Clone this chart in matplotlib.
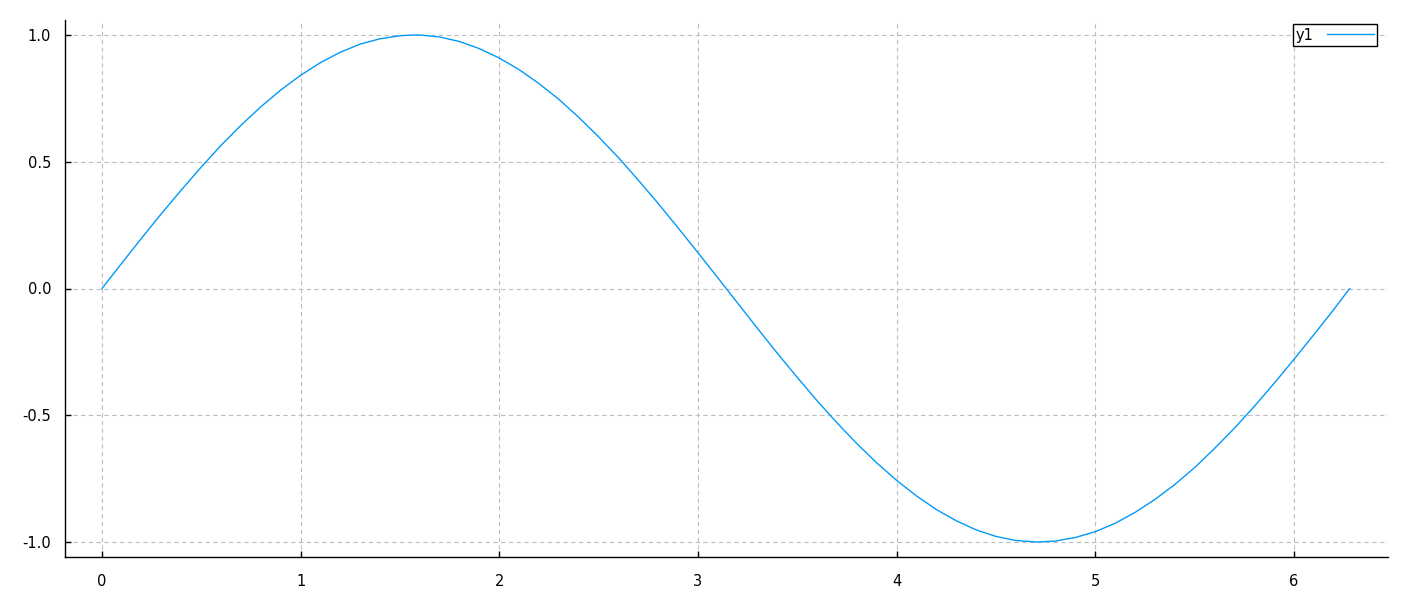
import matplotlib
matplotlib.use("Agg")
import matplotlib.pyplot as plt

# values
X = [0.0, 0.1, 0.2, 0.3, 0.4, 0.5, 0.6, 0.7, 0.8, 0.9,
     1.0, 1.1, 1.2, 1.3, 1.4, 1.5, 1.57, 1.6, 1.7, 1.8, 1.9,
     2.0, 2.1, 2.2, 2.3, 2.4, 2.5, 2.6, 2.7, 2.8, 2.9,
     3.0, 3.1, 3.2, 3.3, 3.4, 3.5, 3.6, 3.7, 3.8, 3.9,
     4.0, 4.1, 4.2, 4.3, 4.4, 4.5, 4.6, 4.71, 4.8, 4.9,
     5.0, 5.1, 5.2, 5.3, 5.4, 5.5, 5.6, 5.7, 5.8, 5.9,
     6.0, 6.1, 6.2, 6.28]
Y1 = [0.000, 0.100, 0.199, 0.296, 0.389, 0.479, 0.565, 0.644, 0.717, 0.783,
      0.841, 0.891, 0.932, 0.964, 0.985, 0.997, 1.000, 1.000, 0.992, 0.974, 0.946,
      0.909, 0.863, 0.808, 0.746, 0.675, 0.598, 0.516, 0.427, 0.335, 0.239,
      0.141, 0.042, -0.058, -0.158, -0.256, -0.351, -0.443, -0.530, -0.612, -0.688,
      -0.757, -0.818, -0.872, -0.916, -0.952, -0.978, -0.994, -1.000, -0.996, -0.982,
      -0.959, -0.926, -0.883, -0.832, -0.773, -0.706, -0.631, -0.551, -0.465, -0.374,
      -0.279, -0.182, -0.083, 0.000]
X_TICKS = [0, 1, 2, 3, 4, 5, 6]
Y_TICKS = [-1.0, -0.5, 0.0, 0.5, 1.0]

plt.rcParams["font.family"] = ["DejaVu Sans"]

fig = plt.figure(figsize=(14.18, 5.98), dpi=100)
ax = fig.add_axes([65 / 1418, 41 / 598, 1323 / 1418, 537 / 598])

ax.plot(X, Y1, color="#009AFA", lw=1.0, label="y1")

ax.set_xlim(-0.186, 6.473)
ax.set_ylim(-1.059, 1.059)
ax.set_xticks(X_TICKS)
ax.set_xticklabels([str(t) for t in X_TICKS])
ax.set_yticks(Y_TICKS)
ax.set_yticklabels([f"{t:.1f}" for t in Y_TICKS])

ax.grid(True, color="#BDBDBD", linestyle=(0, (4, 3)), linewidth=0.8)
ax.set_axisbelow(True)
for s in ("top", "right"):
    ax.spines[s].set_visible(False)
for s in ("left", "bottom"):
    ax.spines[s].set_linewidth(1.0)
ax.tick_params(direction="in", length=4, width=1, labelsize=10.5, pad=12)
ax.tick_params(axis="y", pad=10)

leg = ax.legend(loc="upper right", bbox_to_anchor=(0.9915, 0.992), fontsize=10.5,
                fancybox=False, framealpha=1, edgecolor="black",
                markerfirst=False, handlelength=3.2, borderpad=0.22,
                handletextpad=0.9, borderaxespad=0.0)
leg.get_frame().set_linewidth(1.0)

fig.savefig("out.png", dpi=100)
